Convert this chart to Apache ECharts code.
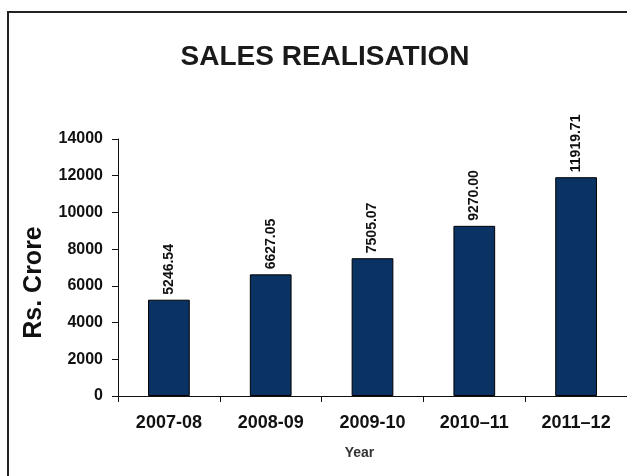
<!DOCTYPE html>
<html>
<head>
<meta charset="utf-8">
<script src="https://cdn.jsdelivr.net/npm/echarts@6/dist/echarts.min.js"></script>
<style>
html,body{margin:0;padding:0;background:#fff;}
#chart{width:627px;height:476px;}
</style>
</head>
<body>
<div id="chart"></div>
<script>
var categories = ["2007-08", "2008-09", "2009-10", "2010\u201311", "2011\u201312"];
var salesValues = [5246.54, 6627.05, 7505.07, 9270.00, 11919.71];
var yTicks = { min: 0, max: 14000, interval: 2000 };

var chart = echarts.init(document.getElementById('chart'), null, { renderer: 'canvas' });
var FONT = '"Liberation Sans", Arial, Helvetica, sans-serif';
chart.setOption({
  backgroundColor: '#ffffff',
  animation: false,
  graphic: [{
    type: 'rect',
    shape: { x: 8, y: 12, width: 640, height: 480 },
    style: { fill: 'none', stroke: '#222', lineWidth: 2 },
    silent: true
  }],
  title: {
    text: 'SALES REALISATION',
    left: 320, textAlign: 'center',
    top: 38,
    textStyle: { fontFamily: FONT, fontWeight: 'bold', fontSize: 28, color: '#1a1a1a' }
  },
  grid: { left: 118, right: 0, top: 139, bottom: 80, containLabel: false },
  xAxis: {
    type: 'category',
    data: categories,
    name: 'Year',
    nameLocation: 'middle',
    nameGap: 50,
    nameTextStyle: { fontFamily: FONT, fontWeight: 'bold', fontSize: 14, color: '#333', padding: [0, 26, 0, 0] },
    axisLine: { show: true, lineStyle: { color: '#111', width: 1 } },
    axisTick: { show: true, length: 6, lineStyle: { color: '#111' }, alignWithLabel: false },
    axisLabel: { fontFamily: FONT, fontWeight: 'bold', fontSize: 18, color: '#111', margin: 18, interval: 0 }
  },
  yAxis: {
    type: 'value',
    min: yTicks.min, max: yTicks.max, interval: yTicks.interval,
    name: 'Rs. Crore',
    nameLocation: 'middle',
    nameGap: 71,
    nameRotate: 90,
    nameTextStyle: { fontFamily: FONT, fontWeight: 'bold', fontSize: 25, color: '#111', padding: [0, 30, 0, 0] },
    axisLine: { show: true, lineStyle: { color: '#111', width: 1 } },
    axisTick: { show: true, length: 6, lineStyle: { color: '#111' } },
    axisLabel: { fontFamily: FONT, fontWeight: 'bold', fontSize: 16, color: '#111', margin: 15,
      formatter: function (v) { return String(v); } },
    splitLine: { show: false }
  },
  series: [{
    type: 'bar',
    data: salesValues,
    barWidth: '41%',
    itemStyle: { color: '#0a3263', borderColor: '#000', borderWidth: 1 },
    label: {
      show: true,
      position: 'top',
      rotate: 90,
      align: 'left',
      verticalAlign: 'middle',
      distance: 5,
      fontFamily: FONT, fontWeight: 'bold', fontSize: 14, color: '#111',
      formatter: function (p) { return p.value.toFixed(2); }
    }
  }]
});
</script>
</body>
</html>
